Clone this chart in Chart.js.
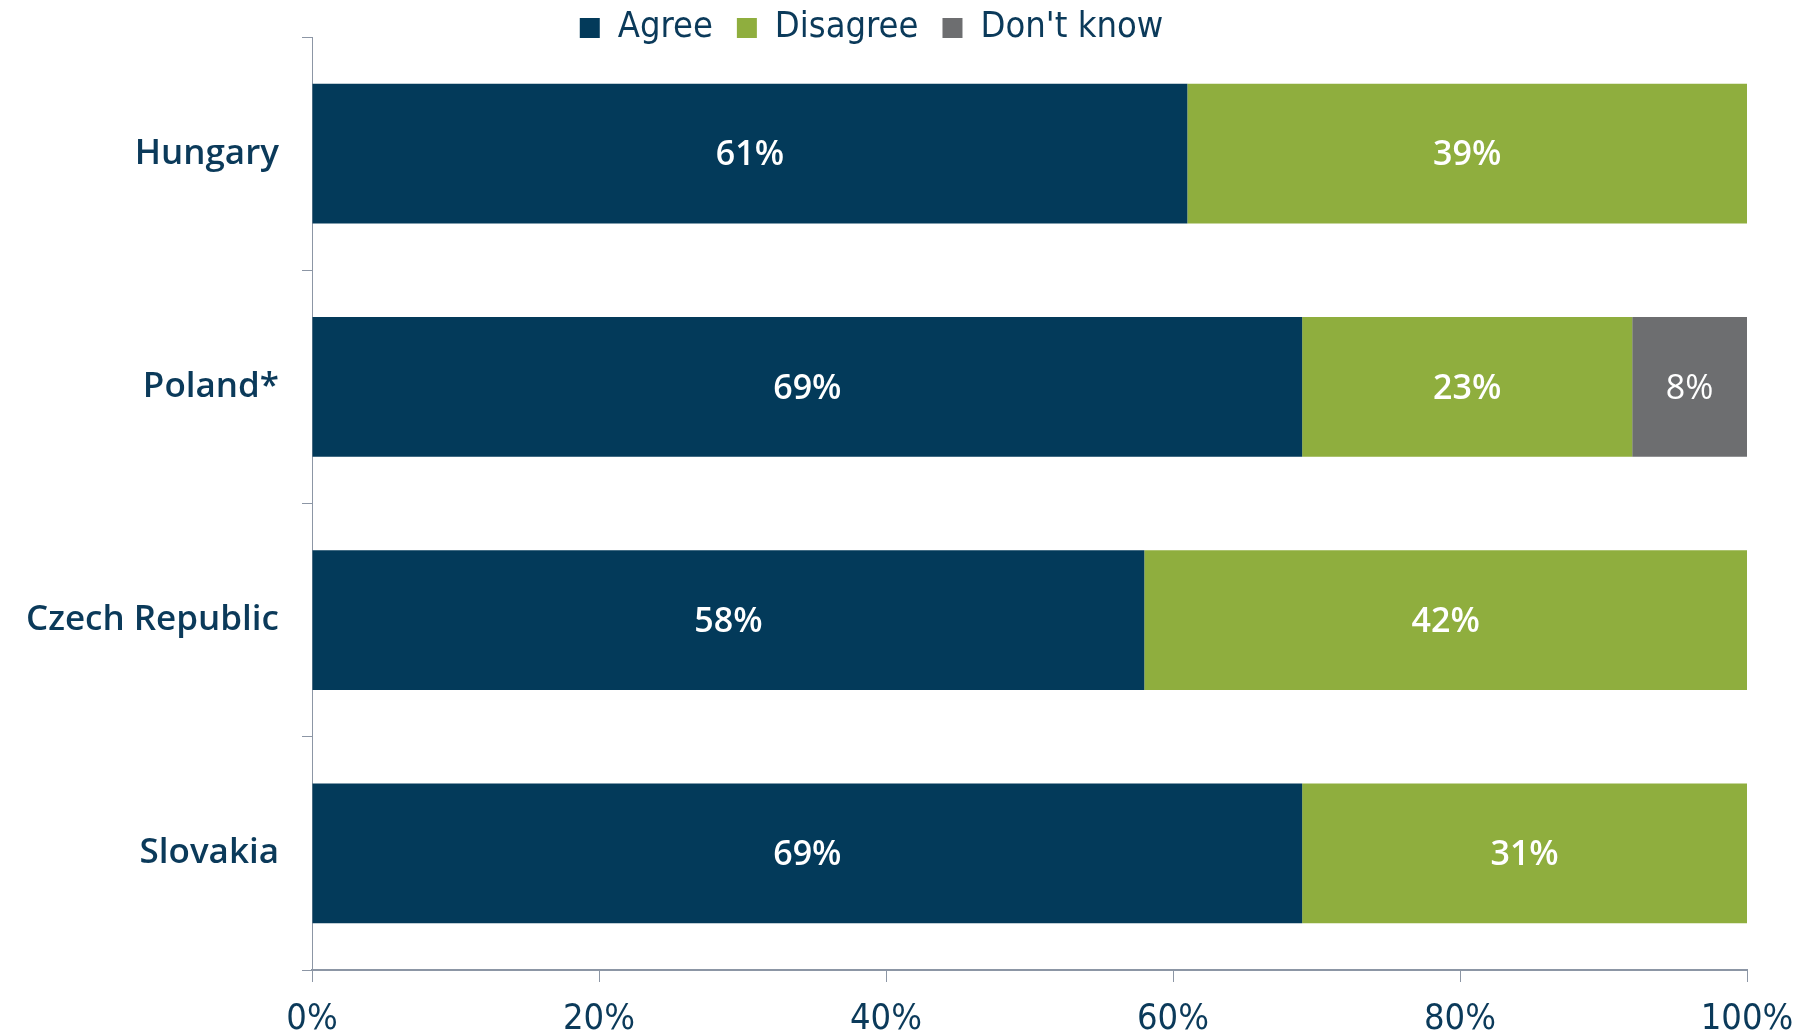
<!DOCTYPE html>
<html lang="en">

<head>
    <meta charset="UTF-8">
    <title>Agree / Disagree</title>
    <script src="https://cdn.jsdelivr.net/npm/chart.js"></script>
    <style>
        body { margin: 0; background: #fff; }
        .grafico { width: 1806px; height: 1032px; }
    </style>
</head>

<body>
    <div class="grafico">
        <canvas id="myChart" width="1806" height="1032"></canvas>
    </div>

    <script>
        const paises = ['Hungary', 'Poland*', 'Czech Republic', 'Slovakia'];
        const agree = [61, 69, 58, 69];
        const disagree = [39, 23, 42, 31];
        const dontKnow = [0, 8, 0, 0];
        const xTicks = [0, 20, 40, 60, 80, 100];

        const azul = '#033a5a';
        const verde = '#8fae3e';
        const cinza = '#6d6e70';
        const corTexto = '#0b3a5a';
        const corEixo = '#8c96a5';

        // escreve os valores dentro das barras
        const rotulos = {
            id: 'rotulos',
            afterDatasetsDraw(chart) {
                const ctx = chart.ctx;
                chart.data.datasets.forEach((ds, i) => {
                    chart.getDatasetMeta(i).data.forEach((bar, j) => {
                        let v = ds.data[j];
                        if (!v) return;
                        let p = bar.getCenterPoint();
                        ctx.save();
                        ctx.fillStyle = '#fff';
                        ctx.font = (i == 2 ? '400' : '600') + ' 34px "Open Sans"';
                        ctx.textAlign = 'center';
                        ctx.textBaseline = 'middle';
                        ctx.fillText(v + '%', p.x, p.y + 2);
                        ctx.restore();
                    });
                });
            }
        };

        // legenda sem recorte, altura fixa e um pouco para a esquerda
        const ajusteLegenda = {
            id: 'ajusteLegenda',
            beforeInit(chart) {
                const fitOriginal = chart.legend.fit;
                chart.legend.fit = function fit() {
                    fitOriginal.bind(chart.legend)();
                    this.height = 51;
                };
                chart.legend.draw = function draw() {
                    this._draw();
                };
            },
            afterLayout(chart) {
                chart.legend.left -= 2;
                chart.legend.right -= 2;
            }
        };

        const dados = {
            labels: paises,
            datasets: [
                { label: 'Agree', data: agree, backgroundColor: azul },
                { label: 'Disagree', data: disagree, backgroundColor: verde },
                { label: "Don't know", data: dontKnow, backgroundColor: cinza }
            ]
        };

        const config = {
            type: 'bar',
            data: dados,
            options: {
                indexAxis: 'y',
                responsive: false,
                animation: false,
                layout: { padding: { top: -14, right: 59, bottom: 0, left: 0 } },
                datasets: {
                    bar: { categoryPercentage: 0.6, barPercentage: 1.0, borderWidth: 0 }
                },
                plugins: {
                    tooltip: { enabled: false },
                    legend: {
                        position: 'top',
                        labels: {
                            boxWidth: 20,
                            boxHeight: 20,
                            padding: 24,
                            color: corTexto,
                            font: { family: '"Liberation Sans Narrow", "DejaVu Sans Condensed", "Liberation Sans"', size: 36 }
                        }
                    }
                },
                scales: {
                    x: {
                        stacked: true,
                        min: 0,
                        max: 100,
                        afterBuildTicks: (scale) => { scale.ticks = xTicks.map(v => ({ value: v })); },
                        afterFit: (scale) => {
                            scale.height = 62;
                            scale.paddingLeft = 0;
                            scale.paddingRight = 0;
                        },
                        grid: { drawOnChartArea: false, drawTicks: true, tickLength: 12, color: corEixo },
                        border: { display: true, color: corEixo, width: 2 },
                        ticks: {
                            padding: 16,
                            color: corTexto,
                            maxRotation: 0,
                            font: { family: '"Liberation Sans Narrow", "DejaVu Sans Condensed", "Liberation Sans"', size: 36 },
                            callback: (v) => v + '%'
                        }
                    },
                    y: {
                        stacked: true,
                        afterFit: (scale) => {
                            scale.width = 312;
                            scale.paddingTop = 0;
                            scale.paddingBottom = 0;
                        },
                        grid: { drawOnChartArea: false, drawTicks: true, tickLength: 10, color: corEixo, offset: true },
                        border: { display: true, color: corEixo, width: 1 },
                        ticks: {
                            padding: 23,
                            color: corTexto,
                            font: { family: '"Open Sans"', size: 35, weight: '600' }
                        }
                    }
                }
            },
            plugins: [rotulos, ajusteLegenda]
        };

        let myChart = new Chart(document.getElementById('myChart'), config);
    </script>
</body>

</html>
